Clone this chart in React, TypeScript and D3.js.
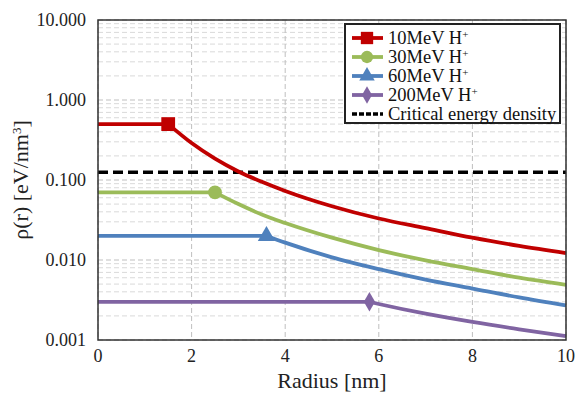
import * as d3 from "d3";

const redR = [0, 1.5, 2, 2.5, 3, 3.5, 4, 5, 6, 7, 8, 9, 10];
const redV = [0.5, 0.5, 0.29, 0.185, 0.128, 0.095, 0.073, 0.047, 0.033, 0.025, 0.019, 0.015, 0.0122];
const greenR = [0, 2.5, 3, 3.5, 4, 5, 6, 7, 8, 9, 10];
const greenV = [0.07, 0.07, 0.05, 0.037, 0.029, 0.019, 0.0133, 0.0099, 0.0077, 0.006, 0.0049];
const blueR = [0, 3.6, 4, 5, 6, 7, 8, 9, 10];
const blueV = [0.02, 0.02, 0.0165, 0.0108, 0.0077, 0.0057, 0.0044, 0.0034, 0.0027];
const purpleR = [0, 5.8, 6, 7, 8, 9, 10];
const purpleV = [0.003, 0.003, 0.00282, 0.00213, 0.00168, 0.00136, 0.00112];
const criticalDensity = 0.125;

const seriesNames = ["10MeV H", "30MeV H", "60MeV H", "200MeV H"];
const xTicks = [0, 2, 4, 6, 8, 10];
const yTicks = [0.001, 0.01, 0.1, 1, 10];

const width = 576;
const height = 393;
const margin = { top: 20, right: 10, bottom: 53, left: 98 };

const FONT = "'Liberation Serif', 'Times New Roman', 'DejaVu Serif', serif";

type Pt = { r: number; v: number };

const series = [
  { name: seriesNames[0], color: "#c00000", shape: d3.symbolSquare, size: 190, pts: redR.map((r, i) => ({ r, v: redV[i] })) },
  { name: seriesNames[1], color: "#9bbb59", shape: d3.symbolCircle, size: 150, pts: greenR.map((r, i) => ({ r, v: greenV[i] })) },
  { name: seriesNames[2], color: "#4f81bd", shape: d3.symbolTriangle, size: 130, pts: blueR.map((r, i) => ({ r, v: blueV[i] })) },
  { name: seriesNames[3], color: "#8064a2", shape: d3.symbolDiamond, size: 110, pts: purpleR.map((r, i) => ({ r, v: purpleV[i] })) },
];

export default function App() {
  const iw = width - margin.left - margin.right;
  const ih = height - margin.top - margin.bottom;

  const x = d3.scaleLinear().domain([0, 10]).range([0, iw]);
  const y = d3.scaleLog().domain([0.001, 10]).range([ih, 0]);

  const flat = d3
    .line<Pt>()
    .x((d) => x(d.r))
    .y((d) => y(d.v));
  const curve = d3
    .line<Pt>()
    .x((d) => x(d.r))
    .y((d) => y(d.v))
    .curve(d3.curveMonotoneX);

  // minor grid values 2..9 per decade
  const minor: number[] = [];
  for (let e = -3; e < 1; e++) {
    for (let m = 2; m <= 9; m++) minor.push(m * Math.pow(10, e));
  }

  return (
    <svg width={width} height={height} style={{ position: "absolute", left: 0, top: 0 }}>
      <rect width={width} height={height} fill="#fff" />
      <g transform={`translate(${margin.left},${margin.top})`}>
        {minor.map((v) => (
          <line key={"m" + v} x1={0} x2={iw} y1={y(v)} y2={y(v)} stroke="#d9d9d9" strokeWidth={1} strokeDasharray="5,3" />
        ))}
        {yTicks.map((v) => (
          <line key={"y" + v} x1={0} x2={iw} y1={y(v)} y2={y(v)} stroke="#bfbfbf" strokeWidth={1} strokeDasharray="5,3" />
        ))}
        {xTicks.map((v) => (
          <line key={"x" + v} x1={x(v)} x2={x(v)} y1={0} y2={ih} stroke="#bfbfbf" strokeWidth={1} strokeDasharray="5,3" />
        ))}

        <line
          x1={x(0)}
          x2={x(10)}
          y1={y(criticalDensity)}
          y2={y(criticalDensity)}
          stroke="#000"
          strokeWidth={3.5}
          strokeDasharray="10,5"
        />

        {series.map((s) => {
          const flatPts = s.pts.slice(0, 2);
          const tail = s.pts.slice(1);
          return (
            <g key={s.name}>
              <path d={flat(flatPts) ?? ""} fill="none" stroke={s.color} strokeWidth={3.8} />
              <path d={curve(tail) ?? ""} fill="none" stroke={s.color} strokeWidth={3.8} />
              <path
                d={d3.symbol().type(s.shape).size(s.size)() ?? ""}
                transform={`translate(${x(s.pts[1].r)},${y(s.pts[1].v)})`}
                fill={s.color}
              />
            </g>
          );
        })}

        <rect x={0} y={0} width={iw} height={ih} fill="none" stroke="#333" strokeWidth={1.5} />

        {yTicks.map((v) => (
          <text key={"yl" + v} x={-12} y={y(v)} dy="0.35em" textAnchor="end" fontSize={18} fill="#222" fontFamily={FONT}>
            {d3.format(".3f")(v)}
          </text>
        ))}
        {xTicks.map((v) => (
          <text key={"xl" + v} x={x(v)} y={ih + 22} textAnchor="middle" fontSize={18} fill="#222" fontFamily={FONT}>
            {v}
          </text>
        ))}

        <text x={iw / 2} y={ih + 48} textAnchor="middle" fontSize={22} fill="#222" fontFamily={FONT}>
          Radius [nm]
        </text>
        <text transform={`translate(${-70},${ih / 2}) rotate(-90)`} textAnchor="middle" fontSize={22} fill="#222" fontFamily={FONT}>
          ρ(r) [eV/nm<tspan baselineShift="super" fontSize={13}>3</tspan>]
        </text>
      </g>

      {/* legend */}
      <g transform="translate(345,24)">
        <rect x={0} y={0} width={215} height={99} fill="#fff" stroke="#222" strokeWidth={2} />
        {series.map((s, i) => (
          <g key={"lg" + s.name} transform={`translate(0,${14 + i * 19})`}>
            <line x1={7} x2={38} y1={0} y2={0} stroke={s.color} strokeWidth={3.8} />
            <path d={d3.symbol().type(s.shape).size(s.size * 0.8)() ?? ""} transform="translate(22,0)" fill={s.color} />
            <text x={43} y={0} dy="0.35em" fontSize={18.5} fill="#111" fontFamily={FONT}>
              {s.name}
              <tspan baselineShift="super" fontSize={11}>+</tspan>
            </text>
          </g>
        ))}
        <g transform={`translate(0,${14 + 4 * 19})`}>
          <line x1={7} x2={38} y1={0} y2={0} stroke="#000" strokeWidth={3.5} strokeDasharray="5,2" />
          <text x={43} y={0} dy="0.35em" fontSize={18.5} fill="#111" fontFamily={FONT}>
            Critical energy density
          </text>
        </g>
      </g>
    </svg>
  );
}
